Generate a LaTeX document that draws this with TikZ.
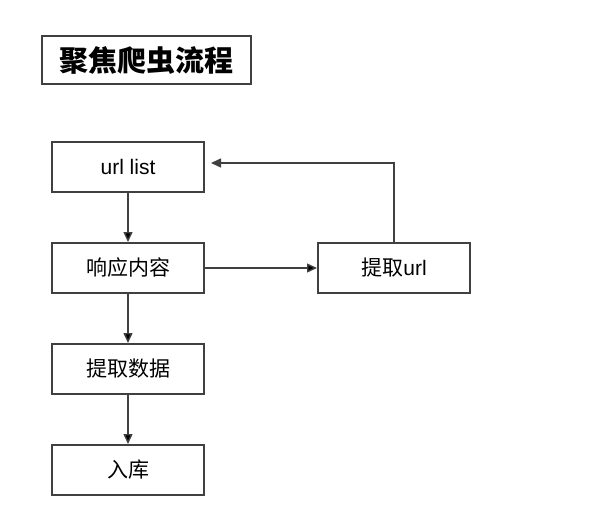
\documentclass[tikz,border=0pt]{standalone}
\usepackage{fontspec}
\setmainfont{Liberation Sans}
\newfontfamily\cjk{Noto Sans CJK SC}
\usetikzlibrary{positioning,arrows.meta}
\begin{document}
\begin{tikzpicture}[x=1pt,y=-1pt,
  box/.style={draw=black!75,line width=2pt,minimum width=152pt,minimum height=50pt,
    inner sep=0pt,font=\fontsize{21}{24}\selectfont},
  titlebox/.style={draw=black!75,line width=1.6pt,minimum width=209pt,minimum height=48pt,
    inner sep=0pt,font=\cjk\bfseries\fontsize{29}{32}\selectfont},
  link/.style={draw=black!75,line width=1.4pt,->},
  node distance=49pt and 112pt,
  >={Triangle[length=10pt,width=9pt]}]
\useasboundingbox (0,0) rectangle (615,527);
\node [titlebox] (title) at (146.5,60) {聚焦爬虫流程};
\node [box] (urls) at (128,167) {url list};
\node [box,below=of urls] (resp) {\cjk 响应内容};
\node [box,right=of resp] (exturl) {{\cjk 提取}url};
\node [box,below=of resp] (data) {\cjk 提取数据};
\node [box,below=of data] (store) {\cjk 入库};
\coordinate (back) at ([xshift=6pt,yshift=4pt]urls.east);

\path[link] (urls) edge (resp);
\path[link] (resp) edge (exturl);
\path[link] (resp) edge (data);
\path[link] (data) edge (store);
\draw[link] (exturl.north) |- (back);
\end{tikzpicture}
\end{document}
